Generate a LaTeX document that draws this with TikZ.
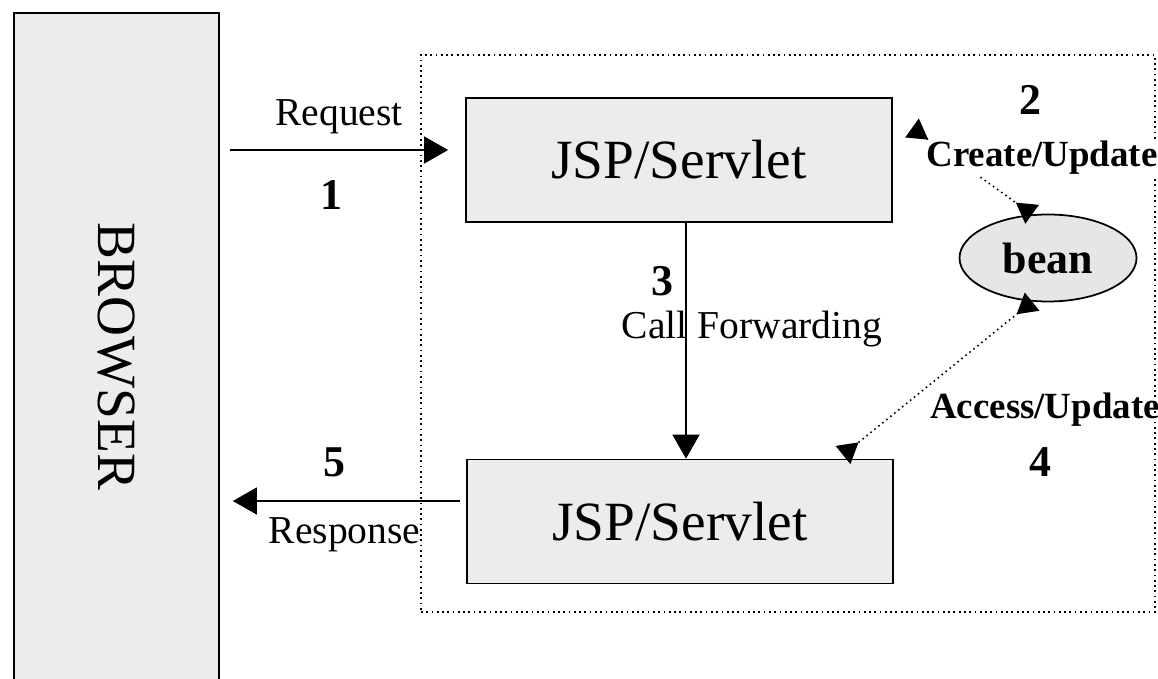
\documentclass[tikz,border=0pt]{standalone}
\usepackage{fontspec}
\setmainfont{Liberation Serif}
\usetikzlibrary{arrows.meta,shapes.geometric}
\definecolor{boxgray}{RGB}{236,236,236}
\definecolor{beangray}{RGB}{230,230,230}

\begin{document}
\begin{tikzpicture}[
  box/.style={draw, line width=1pt, fill=boxgray, minimum width=8.52cm, minimum height=2.48cm, inner sep=0pt, font=\fontsize{31.5}{36}\selectfont},
  browserbox/.style={draw, line width=1pt, fill=boxgray, minimum width=4.1cm, minimum height=13.74cm, inner sep=0pt, font=\fontsize{31.5}{36}\selectfont},
  beannode/.style={draw, ellipse, line width=1pt, fill=beangray, minimum width=3.54cm, minimum height=1.74cm, inner sep=0pt, font=\bfseries\fontsize{25}{28}\selectfont},
  container/.style={draw, dotted, line width=1pt, minimum width=14.68cm, minimum height=11.14cm},
  flow/.style={line width=0.9pt, -{Triangle[length=0.48cm,width=0.54cm]}},
  link/.style={line width=0.9pt, dotted, {Triangle[reversed,length=0.4cm,width=0.46cm]}-{Triangle[reversed,length=0.4cm,width=0.46cm]}},
  lbl/.style={font=\fontsize{22.5}{26}\selectfont, inner sep=1pt},
  num/.style={font=\bfseries\fontsize{25}{28}\selectfont, inner sep=1pt},
  tag/.style={font=\bfseries\fontsize{21}{24}\selectfont, inner sep=1pt}
]
\clip (0,0) rectangle (23.16,-13.58);

\node[container] (server) at (15.76,-6.67) {};
\node[browserbox] (browser) at (2.33,-7.13) {\rotatebox{-90}{BROWSER}};

\node[box] (front) at (13.58,-3.2) {JSP/Servlet};
\node[box] (view) at (13.6,-10.43) {JSP/Servlet};
\node[beannode] (bean) at (20.96,-5.16) {bean};

\coordinate (reqy) at (0,-3.0);
\coordinate (resy) at (0,-10.02);
\coordinate (fwdx) at (13.72,0);
\coordinate (c2) at (18.24,-2.56);
\coordinate (c4) at (16.86,-9.1);

% request / response
\draw[flow] ([xshift=0.2cm]browser.east |- reqy) -- ([xshift=-0.34cm]front.west |- reqy)
  node[lbl, midway, yshift=0.66cm] (reqlbl) {Request}
  node[num, midway, xshift=-0.15cm, yshift=-0.9cm] (n1) {1};
\draw[flow] ([xshift=-0.12cm]view.west |- resy) -- ([xshift=0.26cm]browser.east |- resy)
  node[num, midway, xshift=-0.24cm, yshift=0.78cm] (n5) {5}
  node[lbl, midway, xshift=-0.04cm, yshift=-0.68cm] (reslbl) {Response};

% forwarding
\draw[flow] (front.south -| fwdx) -- (view.north -| fwdx)
  node[num, midway, xshift=-0.48cm, yshift=1.2cm] (n3) {3}
  node[lbl, midway, xshift=1.32cm, yshift=0.24cm] (fwdlbl) {Call Forwarding};

% bean access
\draw[link] (c2) -- (bean.110);
\draw[link] (bean.250) -- (c4);
\node[num] (n2) at (20.6,-2.0) {2};
\node[tag, fill=white] (crlbl) at (20.84,-3.16) {Create/Update};
\node[tag] (aclbl) at (20.9,-8.2) {Access/Update};
\node[num] (n4) at (20.8,-9.24) {4};
\end{tikzpicture}
\end{document}
